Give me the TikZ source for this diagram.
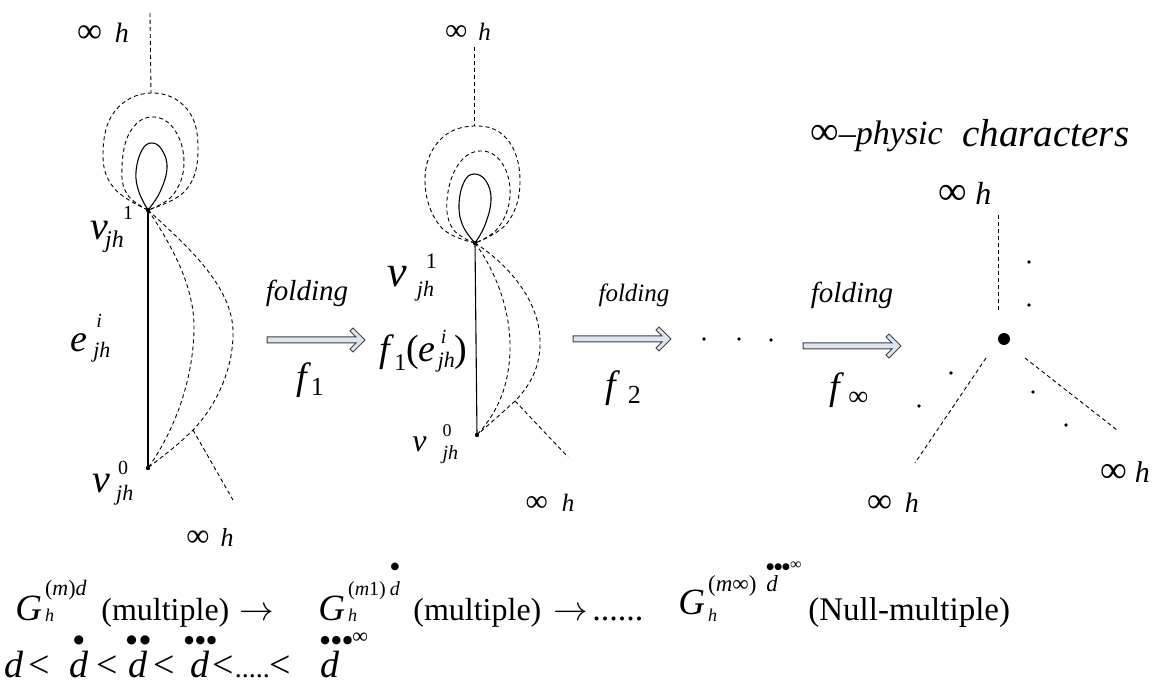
\documentclass[tikz,border=0pt]{standalone}
\usepackage{fontspec}
\setmainfont{Liberation Serif}
\newfontfamily\djv{DejaVu Sans}
\usepackage{amsmath}
\newcommand{\fs}[1]{\fontsize{#1}{#1}\selectfont}
\newcommand{\infsym}[1]{{\fs{#1}∞}}
\newcommand{\infh}[2]{{\infsym{\fpeval{1.25*#1}}\hspace{#2}\fs{#1}\textit{h}}}
\newcommand{\bl}[1]{{\djv\fs{#1}●}}
\newcommand{\cbul}[2]{\ooalign{\hfil\textit{d}\hfil\cr\hfil\raisebox{#1}{#2}\hfil\cr}}
\newcommand{\lbul}[2]{\ooalign{\textit{d}\cr\raisebox{#1}{#2}\cr}}
\definecolor{arrowfillc}{RGB}{220,230,242}
\tikzset{
  dsh/.style={dash pattern=on 2pt off 1.5pt, line width=0.45pt},
  sol/.style={line width=0.55pt},
  vdot/.style={circle, fill, inner sep=0pt, minimum size=2.2pt},
  sdot/.style={circle, fill, inner sep=0pt, minimum size=1.8pt},
  lbl/.style={inner sep=0pt, anchor=base west},
  ctr/.style={inner sep=0pt},
  arrowstyle/.style={draw=black!75, fill=arrowfillc, line width=0.5pt, line join=miter},
  fatarrow/.pic={\draw[arrowstyle] (0,-3) -- (89,-3) -- (83,-9) -- (86,-12) -- (98,0) -- (86,12) -- (83,9) -- (89,3) -- (0,3) -- cycle;}
}
\begin{document}
\begin{tikzpicture}[x=0.5pt,y=-0.5pt]
\path[use as bounding box] (0,0) rectangle (1153,684);

% ---------- graph 1 ----------
\node[vdot] (v1a) at (148,210) {};
\node[vdot] (v0a) at (148,468) {};
\coordinate (t1a) at (150,13);
\coordinate (t1b) at (151,93);
\coordinate (tail1a) at (193,430);
\coordinate (tail1b) at (233,500);
\draw[dsh] (t1a) -- (t1b);
\draw[dsh] plot[smooth, tension=0.7] coordinates {(v1a.center) (114,188) (103,153) (115,111) (t1b) (187,109) (198,150) (186,190) (v1a.center)};
\draw[dsh] plot[smooth, tension=0.7] coordinates {(v1a.center) (127,194) (122,166) (130,132) (151,117) (174,129) (184,163) (173,195) (v1a.center)};
\draw[sol] plot[smooth, tension=0.7] coordinates {(v1a.center) (139,192) (136,172) (142,150) (152,143) (162,150) (167,168) (160,192) (v1a.center)};
\draw[sol] (v1a.center) -- (v0a.center);
\draw[dsh] (v1a.center) .. controls (175,250) and (195,290) .. (194,330) .. controls (193,380) and (175,430) .. (v0a.center);
\draw[dsh] (v1a.center) .. controls (180,240) and (231,282) .. (233,330) .. controls (234,370) and (215,407) .. (tail1a) .. controls (175,448) and (160,458) .. (v0a.center);
\draw[dsh] (tail1a) -- (tail1b);

\node[ctr] (h1t) at (103,33) {\infh{14}{6.5pt}};
\node[ctr] (h1b) at (210,537) {\infh{13}{5.5pt}};
\node[lbl] (l1v1) at (90,240) {{\fs{20}\textit{v}}\hspace{-1.5pt}\rlap{\raisebox{-4pt}{\fs{12}\textit{jh}}}\hspace{9pt}\raisebox{10pt}{\fs{10}1}};
\node[lbl] (l1e) at (70,352) {{\fs{19}\textit{e}}\hspace{3pt}\rlap{\hspace{1.5pt}\raisebox{12pt}{\fs{10}\textit{i}}}\raisebox{-3pt}{\fs{11}\textit{jh}}};
\node[lbl] (l1v0) at (92,493) {{\fs{20}\textit{v}}\hspace{3pt}\rlap{\hspace{1pt}\raisebox{9pt}{\fs{10}0}}\raisebox{-4pt}{\fs{11}\textit{jh}}};

% ---------- arrow 1 ----------
\pic at (267,340) {fatarrow};
\node[ctr] (fold1) at (307,293) {\fs{14.5}\textit{folding}};
\node[ctr] (f1) at (310,380) {{\fs{19}\textit{f}}\raisebox{-3pt}{\fs{13}1}};

% ---------- graph 2 ----------
\node[vdot] (v1b) at (475,243) {};
\node[vdot] (v0b) at (477,435) {};
\coordinate (t2a) at (474,47);
\coordinate (t2b) at (474,126);
\coordinate (tail2a) at (515,401);
\coordinate (tail2b) at (568,457);
\draw[dsh] (t2a) -- (t2b);
\draw[dsh] plot[smooth, tension=0.7] coordinates {(v1b.center) (440,226) (425,181) (439,141) (t2b) (507,139) (520,180) (508,222) (v1b.center)};
\draw[dsh] plot[smooth, tension=0.7] coordinates {(v1b.center) (453,229) (447,200) (458,165) (480,151) (502,163) (510,196) (498,228) (v1b.center)};
\draw[sol] plot[smooth, tension=0.7] coordinates {(v1b.center) (463,226) (459,205) (464,182) (474,174) (486,181) (491,200) (485,225) (v1b.center)};
\draw[sol] (v1b.center) -- (v0b.center);
\draw[dsh] (v1b.center) .. controls (495,270) and (511,310) .. (510,350) .. controls (509,390) and (495,415) .. (v0b.center);
\draw[dsh] (v1b.center) .. controls (505,262) and (539,298) .. (540,340) .. controls (541,366) and (530,386) .. (tail2a) .. controls (500,415) and (488,425) .. (v0b.center);
\draw[dsh] (tail2a) -- (tail2b);

\node[ctr] (h2t) at (468,32) {\infh{12.5}{5.5pt}};
\node[ctr] (h2b) at (550,503) {\infh{12.5}{7pt}};
\node[lbl] (l2v1) at (387,287) {{\fs{22}\textit{v}}\hspace{5pt}\rlap{\hspace{4.5pt}\raisebox{9pt}{\fs{11}1}}\raisebox{-5pt}{\fs{11}\textit{jh}}};
\node[lbl] (l2f) at (379,362) {{\fs{19}\textit{f}}\raisebox{-4.5pt}{\fs{12}1}{\fs{19}(\textit{e}}\hspace{1pt}\rlap{\hspace{1.5pt}\raisebox{9pt}{\fs{10}\textit{i}}}\raisebox{-3pt}{\fs{11}\textit{jh}}{\fs{19})}};
\node[lbl] (l2v0) at (412,452) {{\fs{16}\textit{v}}\hspace{8pt}\rlap{\raisebox{7.5pt}{\fs{9}0}}\raisebox{-4pt}{\fs{10}\textit{jh}}};

% ---------- arrow 2 and dots ----------
\pic at (573,339) {fatarrow};
\node[ctr] (fold2) at (634,295) {\fs{12.5}\textit{folding}};
\node[ctr] (f2) at (623,388) {{\fs{19}\textit{f}}\hspace{4pt}\raisebox{-3pt}{\fs{13}2}};
\node[sdot] (e1) at (704,339) {};
\node[sdot] (e2) at (739,339) {};
\node[sdot] (e3) at (771,340) {};

% ---------- arrow 3 ----------
\pic at (803,346) {fatarrow};
\node[ctr] (fold3) at (852,295) {\fs{14.5}\textit{folding}};
\node[ctr] (finf) at (849,390) {{\fs{19}\textit{f}}\hspace{2pt}\raisebox{-3pt}{\infsym{14}}};

% ---------- graph 3 ----------
\node[lbl] (ttl1) at (810,145) {\infsym{20}{\fs{17}–\textit{physic}}};
\node[lbl] (ttl2) at (962,147) {\fs{19.5}\textit{characters}};
\node[circle, fill, inner sep=0pt, minimum size=6pt] (hub) at (1004,339) {};
\coordinate (r1a) at (998,215); \coordinate (r1b) at (998,312);
\coordinate (r2a) at (986,358); \coordinate (r2b) at (915,463);
\coordinate (r3a) at (1025,358); \coordinate (r3b) at (1117,430);
\draw[dsh] (r1a) -- (r1b);
\draw[dsh] (r2a) -- (r2b);
\draw[dsh] (r3a) -- (r3b);
\node[sdot] (p1) at (1029,262) {};
\node[sdot] (p2) at (1029,305) {};
\node[sdot] (p3) at (951,373) {};
\node[sdot] (p4) at (919,406) {};
\node[sdot] (p5) at (1033,392) {};
\node[sdot] (p6) at (1066,425) {};
\node[ctr] (h3t) at (965,193) {\infh{16}{4pt}};
\node[ctr] (h3r) at (1125,472) {\infh{15}{4pt}};
\node[ctr] (h3l) at (893,503) {\infh{14}{6.5pt}};

% ---------- bottom formula line 1 ----------
\node[lbl] (G1) at (15,620) {{\fs{18.5}\textit{G}}\hspace{1.5pt}\rlap{\raisebox{-1pt}{\fs{9}\textit{h}}}\raisebox{12.5pt}{\fs{11}(\textit{m})\textit{d}}};
\node[lbl] (M1) at (101,620) {\fs{16}(multiple)};
\node[lbl] (A1) at (239,620) {\fs{17}$\rightarrow$};
\node[lbl] (G2) at (318,620) {{\fs{18.5}\textit{G}}\hspace{1.5pt}\rlap{\raisebox{-1pt}{\fs{9}\textit{h}}}\raisebox{12.5pt}{\fs{10}(\textit{m}1)\hspace{2pt}\cbul{12.5pt}{\bl{5}}}};
\node[lbl] (M2) at (413,620) {\fs{16}(multiple)};
\node[lbl] (A2) at (553,620) {\fs{17}$\rightarrow$};
\node[lbl] (D6) at (592,620) {\fs{17}......};
\node[lbl] (G3) at (678,615) {{\fs{18.5}\textit{G}}\hspace{1.5pt}\rlap{\raisebox{-3.5pt}{\fs{9}\textit{h}}}\raisebox{12pt}{\fs{11.5}(\textit{m}∞)\hspace{5pt}\lbul{10.5pt}{\bl{4.5}\bl{4.5}\bl{4.5}\infsym{8}}}};
\node[lbl] (N) at (808,621) {\fs{16.5}(Null-multiple)};

% ---------- bottom formula line 2 ----------
\node[lbl] (d0) at (4,677) {\fs{19}\textit{d}};
\node[lbl] (lt1) at (28,677) {\fs{19}<};
\node[lbl] (d1) at (69,677) {\fs{19}\cbul{17pt}{\bl{6}}};
\node[lbl] (lt2) at (96,677) {\fs{19}<};
\node[lbl] (d2) at (126,677) {\fs{19}\cbul{17pt}{\bl{6}\hspace{1.5pt}\bl{6}}};
\node[lbl] (lt3) at (153,677) {\fs{19}<};
\node[lbl] (d3) at (184,677) {\fs{19}\cbul{17pt}{\bl{5.5}\hspace{0.8pt}\bl{5.5}\hspace{0.8pt}\bl{5.5}}};
\node[lbl] (lt4) at (212,677) {\fs{19}<\hspace{0.5pt}\fs{14}.....\fs{19}<};
\node[lbl] (d4) at (320,677) {\fs{19}\lbul{17pt}{\bl{5.5}\hspace{0.8pt}\bl{5.5}\hspace{0.8pt}\bl{5.5}\infsym{11}}};
\end{tikzpicture}
\end{document}
